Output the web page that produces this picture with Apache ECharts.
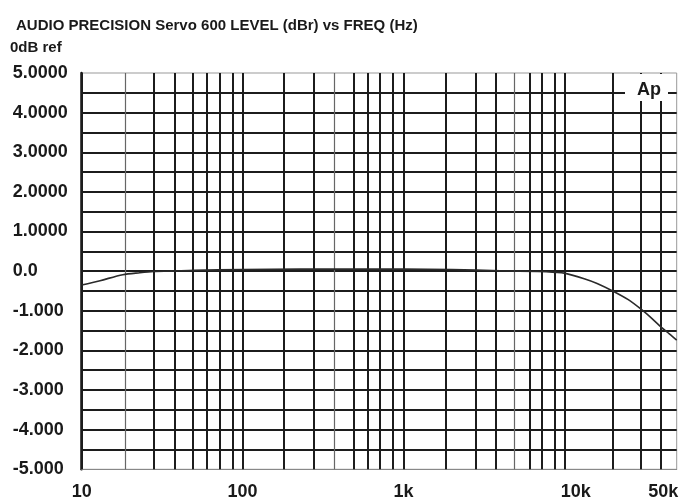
<!DOCTYPE html>
<html>
<head>
<meta charset="utf-8">
<script src="https://cdn.jsdelivr.net/npm/echarts@6/dist/echarts.min.js"></script>
<style>
  html, body { margin: 0; padding: 0; background: #fff; }
  #chart { width: 686px; height: 503px; }
</style>
</head>
<body>
<div id="chart"></div>
<script>
// Frequency response of the Servo 600: level relative to 0 dB vs frequency
const freqHz = [10, 13, 18, 23, 28, 36, 50, 100, 230, 500, 1000, 2000, 4000, 6800, 8800, 10000, 13300, 16000, 20000, 25000, 30000, 35000, 40000, 45000, 50000];
const levelDbr = [-0.35, -0.24, -0.09, -0.04, -0.01, 0.0, 0.02, 0.04, 0.05, 0.05, 0.05, 0.04, 0.01, -0.01, -0.03, -0.05, -0.19, -0.31, -0.5, -0.72, -0.96, -1.19, -1.41, -1.58, -1.74];

// Frequency axis labels
const freqTickValues = [10, 100, 1000, 10000, 50000];
const freqTickLabels = ['10', '100', '1k', '10k', '50k'];

// Level axis labels
const levelTickValues = [5, 4, 3, 2, 1, 0, -1, -2, -3, -4, -5];
const levelTickLabels = ['5.0000', '4.0000', '3.0000', '2.0000', '1.0000', '0.0', '-1.000', '-2.000', '-3.000', '-4.000', '-5.000'];

// Vertical grid rules of the graph paper
const heavyGridHz = [10, 28, 38, 49, 60, 72, 86.5, 100, 181, 276, 491, 601, 714, 861, 1000, 1840, 2820, 3760, 6090, 7230, 8750, 10000, 20000, 30000, 40000];
const lightGridHz = [18.6, 374, 4880];

const FONT = '"Liberation Sans", Arial, Helvetica, sans-serif';

const chart = echarts.init(document.getElementById('chart'), null, { renderer: 'canvas' });

function freqLabel(v) {
  const lv = Math.log10(v);
  for (let i = 0; i < freqTickValues.length; i++) {
    if (Math.abs(lv - Math.log10(freqTickValues[i])) < 1e-4) {
      const t = freqTickLabels[i];
      if (t === '10k') return '{shiftR|' + t + '}';
      if (t === '50k') return '{shiftL|' + t + '}';
      return '{n|' + t + '}';
    }
  }
  return '';
}

function levelLabel(v) {
  for (let i = 0; i < levelTickValues.length; i++) {
    if (Math.abs(v - levelTickValues[i]) < 1e-6) return levelTickLabels[i];
  }
  return '';
}

const gridLines = []
  .concat(heavyGridHz.map(f => ({ xAxis: f, lineStyle: { color: '#1c1c1c', width: 2, type: 'solid' } })))
  .concat(lightGridHz.map(f => ({ xAxis: f, lineStyle: { color: '#666', width: 1.2, type: 'solid' } })));

const labelFont = { fontFamily: FONT, fontWeight: 'bold', fontSize: 18, color: '#1a1a1a' };

chart.setOption({
  animation: false,
  backgroundColor: '#fff',
  title: [
    {
      text: 'AUDIO PRECISION Servo 600 LEVEL (dBr) vs FREQ (Hz)',
      left: 16, top: 18, padding: 0,
      textStyle: { fontFamily: FONT, fontWeight: 'bold', fontSize: 15, color: '#1a1a1a' }
    },
    {
      text: '0dB ref',
      left: 10, top: 40, padding: 0,
      textStyle: { fontFamily: FONT, fontWeight: 'bold', fontSize: 15, color: '#1a1a1a' }
    }
  ],
  grid: {
    left: 81.7, right: 9.3, top: 73, bottom: 33.7,
    show: true, borderColor: '#999', borderWidth: 1, backgroundColor: '#fff'
  },
  xAxis: {
    type: 'log',
    logBase: 10,
    min: 10,
    max: 50000,
    axisLine: { show: true, onZero: false, lineStyle: { color: '#888', width: 1 } },
    axisTick: { show: false },
    splitLine: { show: false },
    minorSplitLine: { show: false },
    axisLabel: {
      show: true,
      margin: 14,
      showMinLabel: true,
      showMaxLabel: true,
      formatter: freqLabel,
      rich: {
        n: labelFont,
        shiftR: Object.assign({ padding: [0, 0, 0, 23] }, labelFont),
        shiftL: Object.assign({ padding: [0, 27, 0, 0] }, labelFont)
      }
    }
  },
  yAxis: {
    type: 'value',
    min: -5,
    max: 5,
    interval: 0.5,
    axisLine: { show: true, lineStyle: { color: '#111', width: 2.5 } },
    axisTick: { show: false },
    splitLine: {
      show: true,
      showMinLine: false,
      showMaxLine: false,
      lineStyle: { color: '#1c1c1c', width: 2 }
    },
    axisLabel: {
      show: true,
      align: 'left',
      margin: 69,
      formatter: levelLabel,
      fontFamily: FONT, fontWeight: 'bold', fontSize: 18, color: '#1a1a1a'
    }
  },
  series: [
    {
      type: 'line',
      data: freqHz.map((f, i) => [f, levelDbr[i]]),
      smooth: 0.3,
      showSymbol: false,
      symbol: 'none',
      lineStyle: { color: '#2a2a2a', width: 1.6 },
      z: 3,
      markLine: {
        silent: true,
        symbol: ['none', 'none'],
        label: { show: false },
        data: gridLines,
        z: 2,
        animation: false
      }
    }
  ],
  graphic: [
    {
      type: 'rect',
      right: 18, top: 74,
      shape: { width: 43, height: 27 },
      style: { fill: '#fff' },
      z: 100
    },
    {
      type: 'text',
      right: 25, top: 81,
      style: { text: 'Ap', font: 'bold 18px ' + FONT, fill: '#1a1a1a' },
      z: 101
    }
  ]
});
</script>
</body>
</html>
